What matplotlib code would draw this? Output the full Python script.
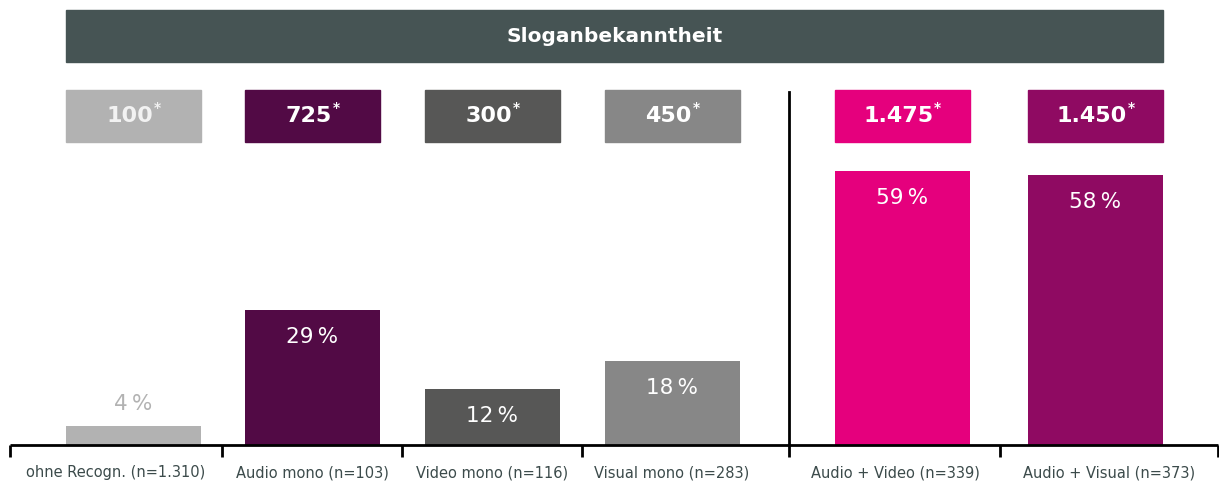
import matplotlib.pyplot as plt
from matplotlib.patches import Rectangle

# data
categories = ["ohne Recogn. (n=1.310)", "Audio mono (n=103)", "Video mono (n=116)",
              "Visual mono (n=283)", "Audio + Video (n=339)", "Audio + Visual (n=373)"]
values = [4, 29, 12, 18, 59, 58]
index_labels = ["100", "725", "300", "450", "1.475", "1.450"]
title = "Sloganbekanntheit"

# layout (pixel units of a 1219x484 canvas)
W, H = 1219, 484
BASE = 445          # baseline, px from top
PX_PER_PCT = 4.65
centers = [133.5, 312.5, 492.5, 672.5, 902.5, 1095.5]
label_x = [116, 312, 492, 672, 895, 1109]
bar_w = 135
ticks = [10, 222, 402, 582, 789, 1000, 1218]
colors = ["#b2b2b2", "#520a45", "#575756", "#878787", "#e5007d", "#8f0a62"]
header_col = "#465454"
label_col = "#3c4b4b"

plt.rcParams["font.family"] = ["DejaVu Sans"]

fig = plt.figure(figsize=(W / 100, H / 100), dpi=100)
ax = fig.add_axes([0, (H - BASE) / H, 1, BASE / H])
ax.set_xlim(0, W)
ax.set_ylim(0, BASE / PX_PER_PCT)
ax.axis("off")


def py(px_from_top):
    """pixel row -> data y"""
    return (BASE - px_from_top) / PX_PER_PCT


ax.bar(centers, values, width=bar_w, color=colors, zorder=2)

for i, (c, v) in enumerate(zip(centers, values)):
    if i == 0:
        ax.text(c, v + 22 / PX_PER_PCT, f"{v}\u2009%", ha="center", va="center",
                fontsize=15.5, color="#b2b2b2")
    else:
        ax.text(c, v - 27 / PX_PER_PCT, f"{v}\u2009%", ha="center", va="center",
                fontsize=15.5, color="white")

# index boxes
for i, (c, lab) in enumerate(zip(centers, index_labels)):
    ax.add_patch(Rectangle((c - bar_w / 2, py(142)), bar_w, py(90) - py(142),
                           color=colors[i], clip_on=False))
    tcol = "#f2f2f2" if i == 0 else "white"
    t = ax.text(c - 4, py(116), lab, ha="center", va="center",
                fontsize=16, fontweight="bold", color=tcol)
    ax.annotate("*", xy=(1, 1), xycoords=t, xytext=(0.5, 3.5),
                textcoords="offset points", ha="left", va="top",
                fontsize=10, fontweight="bold", color=tcol)

# header
ax.add_patch(Rectangle((66, py(62)), 1163 - 66, py(10) - py(62),
                       color=header_col, clip_on=False))
ax.text((66 + 1163) / 2, py(36), title, ha="center", va="center",
        fontsize=14.5, fontweight="bold", color="white")

# baseline, ticks, separator
ax.plot([ticks[0], ticks[-1]], [0, 0], color="black", lw=2, clip_on=False,
        solid_capstyle="butt", zorder=3)
for tk in ticks:
    ax.plot([tk, tk], [0, -12 / PX_PER_PCT], color="black", lw=2, clip_on=False,
            solid_capstyle="butt", zorder=3)
ax.plot([ticks[4], ticks[4]], [0, py(92)], color="black", lw=2, zorder=3)

for x, cat in zip(label_x, categories):
    ax.text(x, -28 / PX_PER_PCT, cat, ha="center", va="center",
            fontsize=10.5, color=label_col, clip_on=False)

fig.savefig("out.png", dpi=100)
